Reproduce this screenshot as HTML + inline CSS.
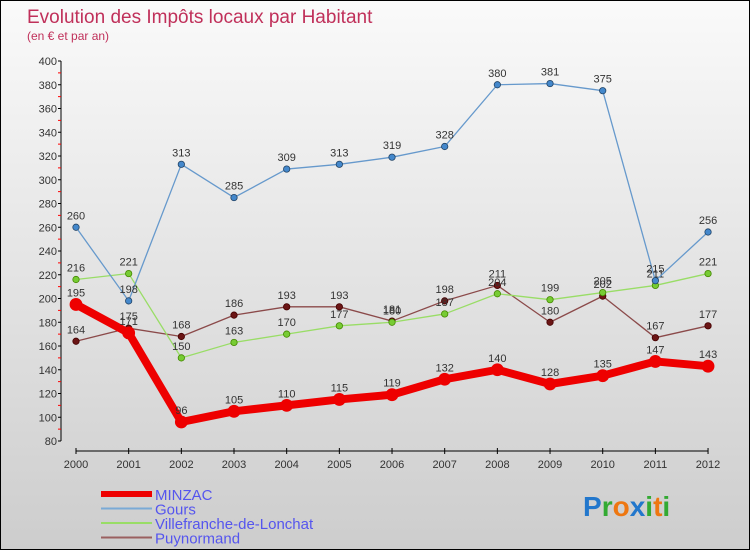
<!DOCTYPE html>
<html><head><meta charset="utf-8"><style>
body{margin:0}
#c{width:750px;height:550px;position:relative;box-sizing:border-box;border:1px solid #000;background:linear-gradient(#fafafa,#cdcdcd);font-family:"Liberation Sans",sans-serif;overflow:hidden}
svg text{font-family:"Liberation Sans",sans-serif}
</style></head><body>
<div id="c">
<svg id="s" width="750" height="550">
<text x="26" y="22" font-size="19" fill="#c0305a">Evolution des Impôts locaux par Habitant</text>
<text x="26" y="39" font-size="12" fill="#c0305a">(en € et par an)</text>
</svg>
</div>
<script>
const years=["2000","2001","2002","2003","2004","2005","2006","2007","2008","2009","2010","2011","2012"];
const yTicks=[80,100,120,140,160,180,200,220,240,260,280,300,320,340,360,380,400];
const minzac=[195,171,96,105,110,115,119,132,140,128,135,147,143];
const gours=[260,198,313,285,309,313,319,328,380,381,375,215,256];
const villefranche=[216,221,150,163,170,177,180,187,204,199,205,211,221];
const puynormand=[164,175,168,186,193,193,181,198,211,180,202,167,177];
const svg=document.getElementById('s');const NS='http://www.w3.org/2000/svg';
function X(i){return 75+i*52.67}
function Y(v){return 440-(v-80)*1.1875}
function mk(t,a,p){const e=document.createElementNS(NS,t);for(const k in a)e.setAttribute(k,a[k]);(p||svg).appendChild(e);return e}
let ax=mk('g',{});
mk('line',{x1:60,y1:60,x2:60,y2:440,stroke:'#000'},ax);
yTicks.forEach((v,i)=>{mk('line',{x1:57,x2:60,y1:Y(v),y2:Y(v),stroke:'#000'},ax);
 if(i<yTicks.length-1)mk('line',{x1:57,x2:60,y1:Y(v+10),y2:Y(v+10),stroke:'#f00'},ax);
 const t=mk('text',{x:56,y:Y(v)+4,'font-size':11,'text-anchor':'end',fill:'#333'},ax);t.textContent=v;});
let xa=mk('g',{});
mk('line',{x1:75,y1:450,x2:707,y2:450,stroke:'#000'},xa);
years.forEach((y,i)=>{mk('line',{x1:X(i),x2:X(i),y1:447,y2:453,stroke:'#000'},xa);
 const t=mk('text',{x:X(i),y:467,'font-size':11,'text-anchor':'middle',fill:'#333'},xa);t.textContent=y;});
function series(d,name,col,w,r,dot,lc){const g=mk('g',{});
 mk('polyline',{points:d.map((v,i)=>X(i)+','+Y(v)).join(' '),fill:'none',stroke:col,'stroke-width':w,'stroke-linejoin':'round'},g);
 d.forEach((v,i)=>{const c=mk('circle',{cx:X(i),cy:Y(v),r:r,fill:dot,stroke:lc,'stroke-width':0.8},g);
  const t=mk('text',{x:X(i),y:Y(v)-8,'font-size':11,'text-anchor':'middle',fill:'#333'},g);t.textContent=v;});}
series(puynormand,'puynormand','#8b4a4a',1.3,3.2,'#6b1515','#400');
series(villefranche,'villefranche','#99dd66',1.3,3.2,'#77cc33','#480');
series(gours,'gours','#6699cc',1.3,3.2,'#4488cc','#246');
series(minzac,'minzac','#ee0000',8,6,'#ee0000','#e00');
const leg=[['MINZAC','#ee0000',6],['Gours','#7aaad6',2],['Villefranche-de-Lonchat','#99dd66',2],['Puynormand','#9a6060',2]];
leg.forEach((l,i)=>{const g=mk('g',{});
 const y=493+i*14.5;mk('line',{x1:100,x2:151,y1:y,y2:y,stroke:l[1],'stroke-width':l[2]},g);
 const t=mk('text',{x:154,y:y+6,'font-size':15,fill:'#5555ee'},g);t.textContent=l[0];});
const lg=mk('text',{x:582,y:515,'font-size':28,'font-weight':'bold'});
[['P','#2277cc'],['r','#33aa33'],['o','#ee7711'],['x','#2277cc'],['i','#33aa33'],['t','#ee7711'],['i','#33aa33']].forEach(c=>{const s=mk('tspan',{fill:c[1]},lg);s.textContent=c[0];});
</script>
</body></html>
